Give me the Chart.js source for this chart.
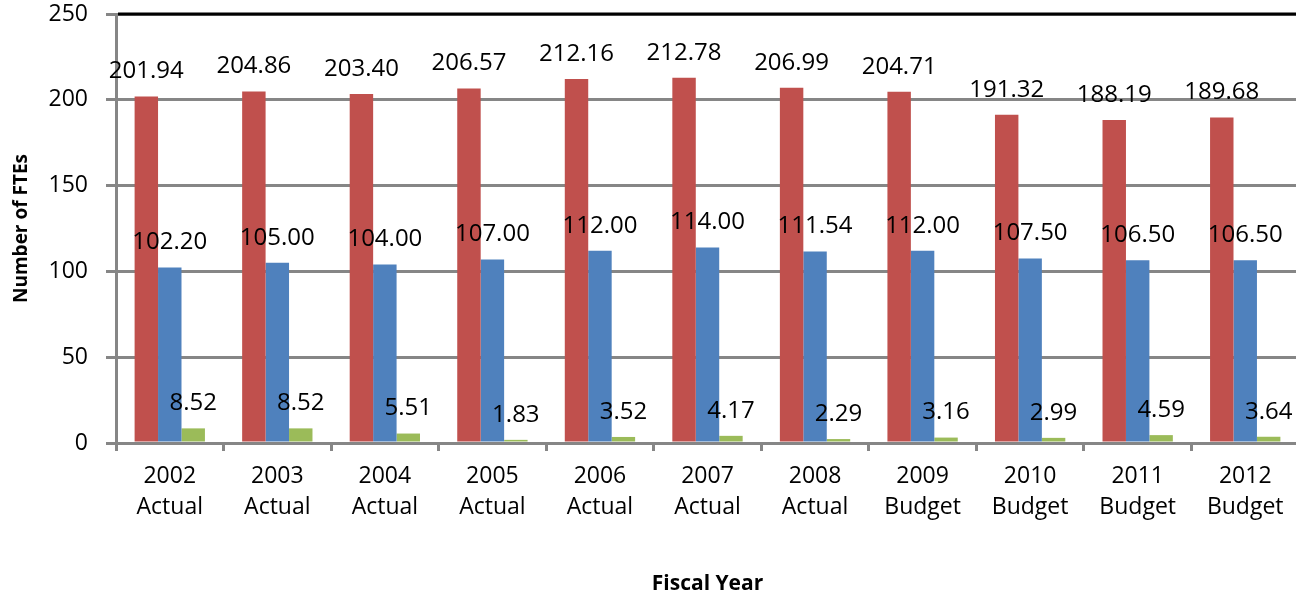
<!DOCTYPE html>
<html>
<head>
<meta charset="utf-8">
<script src="https://cdn.jsdelivr.net/npm/chart.js@4"></script>
<style>
    html, body { margin: 0; padding: 0; background: #fff; overflow: hidden; }
    #wrap { width: 1299px; height: 597px; }
</style>
</head>
<body>
<div id="wrap"><canvas id="fteChart"></canvas></div>
<script>
// chart values
const years = [
    ['2002', 'Actual'], ['2003', 'Actual'], ['2004', 'Actual'], ['2005', 'Actual'],
    ['2006', 'Actual'], ['2007', 'Actual'], ['2008', 'Actual'], ['2009', 'Budget'],
    ['2010', 'Budget'], ['2011', 'Budget'], ['2012', 'Budget']
];
const redSeries = [201.94, 204.86, 203.40, 206.57, 212.16, 212.78, 206.99, 204.71, 191.32, 188.19, 189.68];
const blueSeries = [102.20, 105.00, 104.00, 107.00, 112.00, 114.00, 111.54, 112.00, 107.50, 106.50, 106.50];
const greenSeries = [8.52, 8.52, 5.51, 1.83, 3.52, 4.17, 2.29, 3.16, 2.99, 4.59, 3.64];
const yTicks = [0, 50, 100, 150, 200, 250];

const FONT = "'Open Sans', 'DejaVu Sans', sans-serif";
const GRID = '#868686';

// value labels above each bar, plus the black line along the top of the plot
const barLabels = {
    id: 'barLabels',
    afterDatasetsDraw(chart) {
        const ctx = chart.ctx;
        const area = chart.chartArea;
        ctx.save();
        ctx.strokeStyle = '#000';
        ctx.lineWidth = 3;
        ctx.beginPath();
        ctx.moveTo(area.left + 2, area.top);
        ctx.lineTo(area.right, area.top);
        ctx.stroke();

        ctx.font = '24px ' + FONT;
        ctx.fillStyle = '#000';
        ctx.textAlign = 'center';
        ctx.textBaseline = 'middle';
        chart.data.datasets.forEach((ds, i) => {
            chart.getDatasetMeta(i).data.forEach((bar, j) => {
                ctx.fillText(ds.data[j].toFixed(2), bar.x, bar.y - 25);
            });
        });
        ctx.restore();
    }
};

new Chart(document.getElementById('fteChart'), {
    type: 'bar',
    data: {
        labels: years,
        datasets: [
            { label: 'Series 1', data: redSeries, backgroundColor: '#C0504D' },
            { label: 'Series 2', data: blueSeries, backgroundColor: '#4F81BD' },
            { label: 'Series 3', data: greenSeries, backgroundColor: '#9BBB59' }
        ]
    },
    options: {
        responsive: true,
        maintainAspectRatio: false,
        animation: false,
        layout: { autoPadding: false, padding: { top: 14, right: 0, bottom: 0, left: 0 } },
        datasets: { bar: { categoryPercentage: 0.654, barPercentage: 1 } },
        plugins: { legend: { display: false }, tooltip: { enabled: false } },
        scales: {
            x: {
                grid: { drawOnChartArea: false, drawTicks: true, tickLength: 8, color: GRID, lineWidth: 3 },
                border: { color: GRID, width: 3 },
                ticks: { color: '#000', font: { family: FONT, size: 23, lineHeight: 1.35 }, padding: 10, maxRotation: 0 },
                title: { display: true, text: 'Fiscal Year', color: '#000', font: { family: FONT, size: 21, weight: 'bold' }, padding: { top: 0, bottom: 0 } },
                afterFit(scale) {
                    scale.height = 154;
                    scale.paddingLeft = 0;
                    scale.paddingRight = 0;
                }
            },
            y: {
                min: 0,
                max: 250,
                afterBuildTicks(scale) { scale.ticks = yTicks.map(v => ({ value: v })); },
                grid: { color: GRID, lineWidth: 3, tickLength: 10 },
                border: { color: GRID, width: 3 },
                ticks: { color: '#000', font: { family: FONT, size: 23 }, padding: 18 },
                title: { display: true, text: 'Number of FTEs', color: '#000', font: { family: FONT, size: 19, weight: 'bold' }, padding: { top: 10, bottom: 0 } },
                afterFit(scale) {
                    scale.width = 116;
                    scale.paddingTop = 0;
                    scale.paddingBottom = 0;
                }
            }
        }
    },
    plugins: [barLabels]
});
</script>
</body>
</html>
